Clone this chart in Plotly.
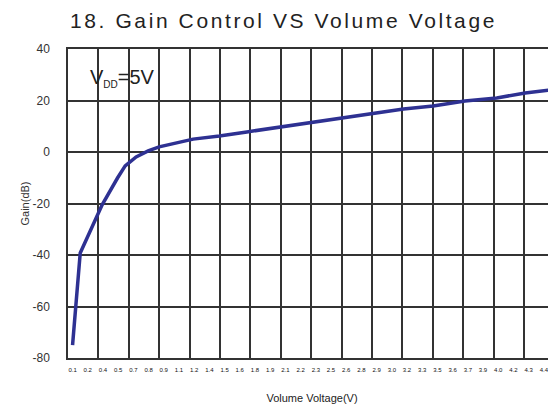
import plotly.graph_objects as go

# ---- data ----
volume_v = [0.10, 0.17, 0.37, 0.44, 0.51, 0.58, 0.68, 0.79, 0.89, 1.20, 1.44, 1.69,
            1.99, 2.26, 2.56, 2.84, 3.12, 3.39, 3.68, 3.97, 4.23, 4.47]
gain_db = [-75.0, -39.2, -20.5, -15.1, -10.1, -5.4, -1.9, 0.4, 2.0, 5.0, 6.2, 7.8,
           9.7, 11.3, 13.2, 14.8, 16.7, 17.9, 19.8, 21.0, 22.9, 24.1]

x_tick_labels = ["0.1", "0.2", "0.4", "0.5", "0.7", "0.8", "0.9", "1.1", "1.2", "1.4",
                 "1.5", "1.6", "1.8", "1.9", "2.1", "2.2", "2.3", "2.5", "2.6", "2.8",
                 "2.9", "3.0", "3.2", "3.3", "3.5", "3.6", "3.7", "3.9", "4.0", "4.2",
                 "4.3", "4.4"]
y_ticks = [-80, -60, -40, -20, 0, 20, 40]
y_tick_labels = ["-80", "-60", "-40", "-20", "0", "20", "40"]

# ---- axis geometry ----
n = len(x_tick_labels)
step = (4.4 - 0.1) / (n - 1)
tickvals = [0.1 + i * step for i in range(n)]
x0 = 0.1 - 0.3 * step
grid_dtick = 2 * step
x_range = [x0, x0 + 16.05 * grid_dtick]

GRID = "#333333"
LINE = "#2E3192"

fig = go.Figure()
fig.add_trace(go.Scatter(x=volume_v, y=gain_db, mode="lines",
                         line=dict(color=LINE, width=3.5), xaxis="x", yaxis="y",
                         showlegend=False, hoverinfo="skip"))
# empty helper trace so the label axis is rendered
fig.add_trace(go.Scatter(x=[tickvals[0], tickvals[-1]], y=[None, None], mode="lines",
                         xaxis="x2", yaxis="y", showlegend=False, hoverinfo="skip"))

fig.update_layout(
    width=548, height=399,
    margin=dict(l=60, r=0, t=41, b=49),
    paper_bgcolor="white", plot_bgcolor="white",
    font=dict(family="Liberation Sans, Arial, sans-serif", color="#222"),
    title=dict(text='<span style="letter-spacing:2.6px">18. Gain Control VS Volume Voltage</span>',
               x=62 / 548, xanchor="left", xref="container",
               y=1 - 13 / 399, yanchor="middle", yref="container",
               font=dict(size=21, color="#222")),
    xaxis=dict(range=x_range, tick0=x0, dtick=grid_dtick, showgrid=True,
               gridcolor=GRID, gridwidth=1.5, showticklabels=False, ticks="",
               showline=True, mirror=True, linecolor=GRID, linewidth=1.5,
               zeroline=False, fixedrange=True),
    xaxis2=dict(range=x_range, overlaying="x", side="bottom", anchor="y",
                tickmode="array", tickvals=tickvals, ticktext=x_tick_labels,
                showgrid=False, ticks="", zeroline=False, showline=False,
                tickfont=dict(size=6, color="#111"), ticklabelstandoff=7,
                title=dict(text="Volume Voltage(V)", font=dict(size=11, color="#222"),
                           standoff=22)),
    yaxis=dict(range=[-80, 40], tickmode="array", tickvals=y_ticks,
               ticktext=y_tick_labels, showgrid=True,
               gridcolor=GRID, gridwidth=1.5, showline=True, mirror=False,
               linecolor=GRID, linewidth=1.5, zeroline=False, ticks="",
               tickfont=dict(size=12, color="#333"), ticklabelstandoff=14,
               title=dict(text="Gain(dB)", font=dict(size=11, color="#333"), standoff=1)),
)

fig.add_shape(type="rect", xref="paper", yref="paper", x0=0.003, x1=0.209,
              y0=0.838, y1=0.974, fillcolor="white", line=dict(width=0), layer="between")

fig.add_annotation(text='V<sub><span style="font-size:10px">DD</span></sub>=5V',
                   xref="paper", yref="paper",
                   x=(88 - 68) / 488, y=(358 - 78) / 309, xanchor="left", yanchor="middle",
                   showarrow=False, font=dict(size=20, color="#222"))

fig.write_html("out.html")
